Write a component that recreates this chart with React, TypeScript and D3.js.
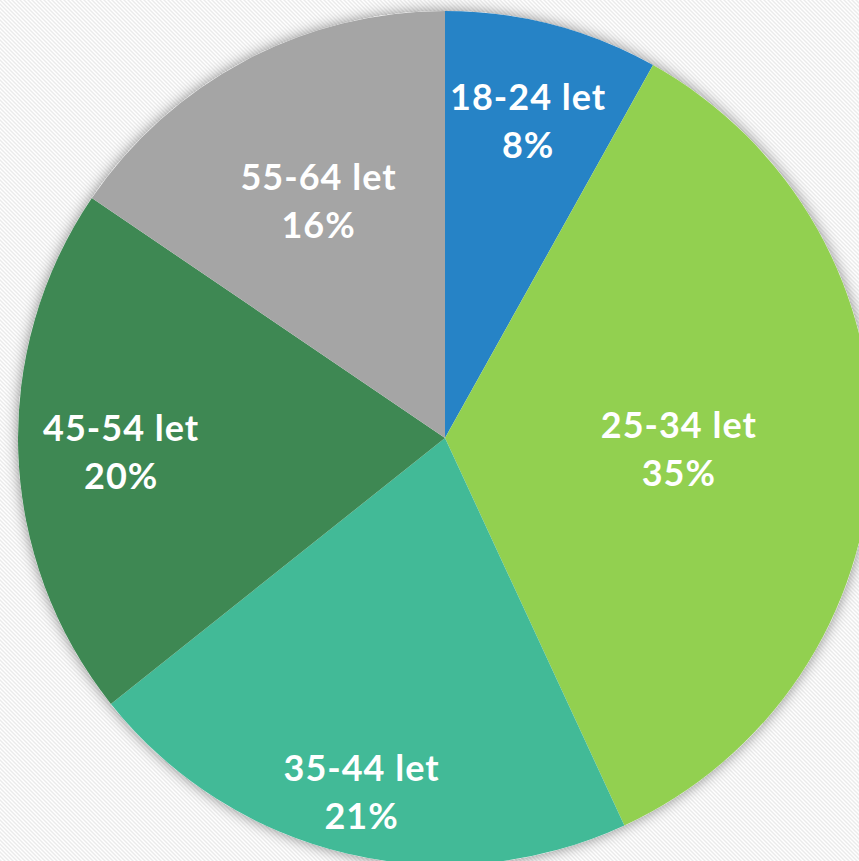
import React, { useEffect, useRef } from 'react';
import * as d3 from 'd3';

const categories = ['18-24 let', '25-34 let', '35-44 let', '45-54 let', '55-64 let'];
// shares; labels show them rounded
const shares = [8.1, 35.0, 21.2, 20.2, 15.5];
const sliceColors = ['#2683C6', '#92D050', '#42BA97', '#3E8853', '#A5A5A5'];
// Excel puts each label at a different distance from the centre
const labelRadiusFactor = [0.773, 0.548, 0.848, 0.759, 0.633];

interface Slice {
  name: string;
  value: number;
  color: string;
  labelR: number;
}

const App: React.FC = () => {
  const svgRef = useRef<SVGSVGElement | null>(null);

  useEffect(() => {
    if (!svgRef.current) return;
    document.body.style.margin = '0';

    const width = 859;
    const height = 861;
    const cx = 445;
    const cy = 438;
    const radius = 427;

    const data: Slice[] = categories.map((name, i) => ({
      name,
      value: shares[i],
      color: sliceColors[i],
      labelR: labelRadiusFactor[i],
    }));

    const svg = d3.select(svgRef.current)
      .attr('width', width)
      .attr('height', height);
    svg.selectAll('*').remove();

    const defs = svg.append('defs');

    // faint diagonal stripes behind the chart
    const pattern = defs.append('pattern')
      .attr('id', 'bg-stripes')
      .attr('patternUnits', 'userSpaceOnUse')
      .attr('width', 4)
      .attr('height', 4);
    pattern.append('rect')
      .attr('width', 4)
      .attr('height', 4)
      .attr('fill', '#ffffff');
    pattern.append('path')
      .attr('d', 'M-1,-1 L5,5 M-1,3 L1,5 M3,-1 L5,1')
      .attr('stroke', '#ebebeb')
      .attr('stroke-width', 1.4);

    const shadow = defs.append('filter')
      .attr('id', 'pie-shadow')
      .attr('x', '-10%')
      .attr('y', '-10%')
      .attr('width', '120%')
      .attr('height', '120%');
    shadow.append('feDropShadow')
      .attr('dx', 0)
      .attr('dy', 0)
      .attr('stdDeviation', 7)
      .attr('flood-color', '#000')
      .attr('flood-opacity', 0.45);

    svg.append('rect')
      .attr('width', width)
      .attr('height', height)
      .attr('fill', 'url(#bg-stripes)');

    const pie = d3.pie<Slice>()
      .value(d => d.value)
      .sort(null);
    const arcs = pie(data);

    const arc = d3.arc<d3.PieArcDatum<Slice>>()
      .innerRadius(0)
      .outerRadius(radius);

    const g = svg.append('g')
      .attr('transform', `translate(${cx},${cy})`);

    g.append('circle')
      .attr('r', radius)
      .attr('fill', '#ffffff')
      .attr('filter', 'url(#pie-shadow)');

    g.selectAll('path.slice')
      .data(arcs)
      .enter()
      .append('path')
      .attr('class', 'slice')
      .attr('d', arc)
      .attr('fill', d => d.data.color);

    const labels = g.selectAll('text.slice-label')
      .data(arcs)
      .enter()
      .append('text')
      .attr('class', 'slice-label')
      .attr('transform', d => {
        const r = radius * d.data.labelR;
        const labelArc = d3.arc<d3.PieArcDatum<Slice>>().innerRadius(r).outerRadius(r);
        const [x, y] = labelArc.centroid(d);
        return `translate(${x},${y})`;
      })
      .attr('text-anchor', 'middle')
      .attr('fill', '#ffffff')
      .attr('font-family', 'Lato, "Open Sans", sans-serif')
      .attr('font-weight', 700)
      .attr('font-size', 36)
      .attr('letter-spacing', 1);

    labels.append('tspan')
      .attr('x', 0)
      .attr('y', -9)
      .text(d => d.data.name);
    labels.append('tspan')
      .attr('x', 0)
      .attr('y', 39)
      .text(d => `${Math.round(d.data.value)}%`);
  }, []);

  return (
    <div style={{ width: 859, height: 861 }}>
      <svg ref={svgRef} style={{ display: 'block' }} />
    </div>
  );
};

export default App;
